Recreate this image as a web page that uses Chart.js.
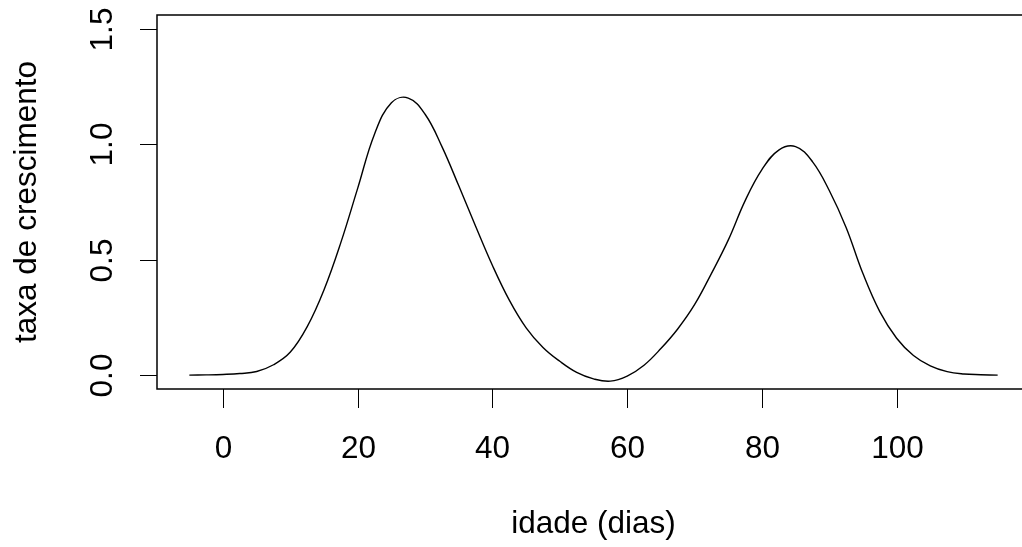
<!DOCTYPE html>
<html>
<head>
<meta charset="utf-8">
<script src="https://cdn.jsdelivr.net/npm/chart.js@4"></script>
<style>
    body { margin: 0; background: #fff; overflow: hidden; }
    #wrap { position: relative; width: 1040px; height: 547px; }
</style>
</head>
<body>
<div id="wrap"><canvas id="chart"></canvas></div>
<script>
// idade (dias)
const days = [-5, -2.5, 0, 2.5, 5, 7.5, 10, 12.5, 15, 17.5, 20, 22.5, 25, 27.5, 30, 32.5, 35, 37.5, 40, 42.5,
    45, 47.5, 50, 52.5, 55, 57.5, 60, 62.5, 65, 67.5, 70, 72.5, 75, 77.5, 80, 82.5, 85, 87.5, 90, 92.5,
    95, 97.5, 100, 102.5, 105, 107.5, 110, 112.5, 115];
// taxa de crescimento
const growthRate = [0, 0.001, 0.003, 0.007, 0.016, 0.045, 0.1, 0.21, 0.37, 0.575, 0.81, 1.045, 1.18, 1.2, 1.13, 0.99, 0.82, 0.645, 0.475, 0.325,
    0.205, 0.12, 0.06, 0.012, -0.016, -0.026, -0.004, 0.043, 0.115, 0.2, 0.305, 0.44, 0.585, 0.755, 0.89, 0.975, 0.99, 0.925, 0.8, 0.64,
    0.44, 0.275, 0.16, 0.085, 0.04, 0.015, 0.005, 0.002, 0];

const xTicks = [0, 20, 40, 60, 80, 100];
const yTicks = [0, 0.5, 1, 1.5];
const yTickLabels = ['0.0', '0.5', '1.0', '1.5'];
const xTitle = 'idade (dias)';
const yTitle = 'taxa de crescimento';

const FONT = '31.5px "Liberation Sans", Arial, sans-serif';

// base R style box, ticks and labels
const rAxes = {
    id: 'rAxes',
    afterDraw: (chart) => {
        const ctx = chart.ctx;
        const area = chart.chartArea;
        const x = chart.scales.x;
        const y = chart.scales.y;
        ctx.save();
        ctx.strokeStyle = '#000';
        ctx.fillStyle = '#000';
        ctx.lineWidth = 1.5;
        ctx.strokeRect(area.left, area.top, area.right - area.left, area.bottom - area.top);

        ctx.lineWidth = 1;
        ctx.font = FONT;
        ctx.textAlign = 'center';
        ctx.textBaseline = 'alphabetic';
        xTicks.forEach(v => {
            const px = Math.round(x.getPixelForValue(v)) + 0.5;
            ctx.beginPath();
            ctx.moveTo(px, area.bottom);
            ctx.lineTo(px, area.bottom + 19);
            ctx.stroke();
            ctx.fillText(String(v), px, 458);
        });
        ctx.fillText(xTitle, (area.left + area.right) / 2, 533);

        yTicks.forEach((v, i) => {
            const py = Math.round(y.getPixelForValue(v)) + 0.5;
            ctx.beginPath();
            ctx.moveTo(area.left, py);
            ctx.lineTo(area.left - 17, py);
            ctx.stroke();
            ctx.save();
            ctx.translate(112, py);
            ctx.rotate(-Math.PI / 2);
            ctx.fillText(yTickLabels[i], 0, 0);
            ctx.restore();
        });

        ctx.save();
        ctx.translate(36, (area.top + area.bottom) / 2);
        ctx.rotate(-Math.PI / 2);
        ctx.fillText(yTitle, 0, 0);
        ctx.restore();
        ctx.restore();
    }
};

let growthChart;
const drawGrowth = (ctx) => {
    if (growthChart) growthChart.destroy();

    growthChart = new Chart(ctx, {
        type: 'line',
        data: {
            datasets: [
                {
                    data: days.map((d, i) => ({ x: d, y: growthRate[i] })),
                    borderColor: '#000',
                    borderWidth: 1.4,
                    pointRadius: 0,
                    fill: false,
                    tension: 0.4,
                    clip: false
                }
            ]
        },
        options: {
            responsive: true,
            maintainAspectRatio: false,
            animation: false,
            layout: {
                padding: { left: 157, top: 15, right: 10, bottom: 158 }
            },
            plugins: {
                legend: { display: false },
                tooltip: { enabled: false }
            },
            scales: {
                x: { type: 'linear', min: -9.8, max: 119.8, display: false },
                y: { type: 'linear', min: -0.06, max: 1.56, display: false }
            }
        },
        plugins: [rAxes]
    });
}

drawGrowth(document.getElementById('chart'));
</script>
</body>
</html>
